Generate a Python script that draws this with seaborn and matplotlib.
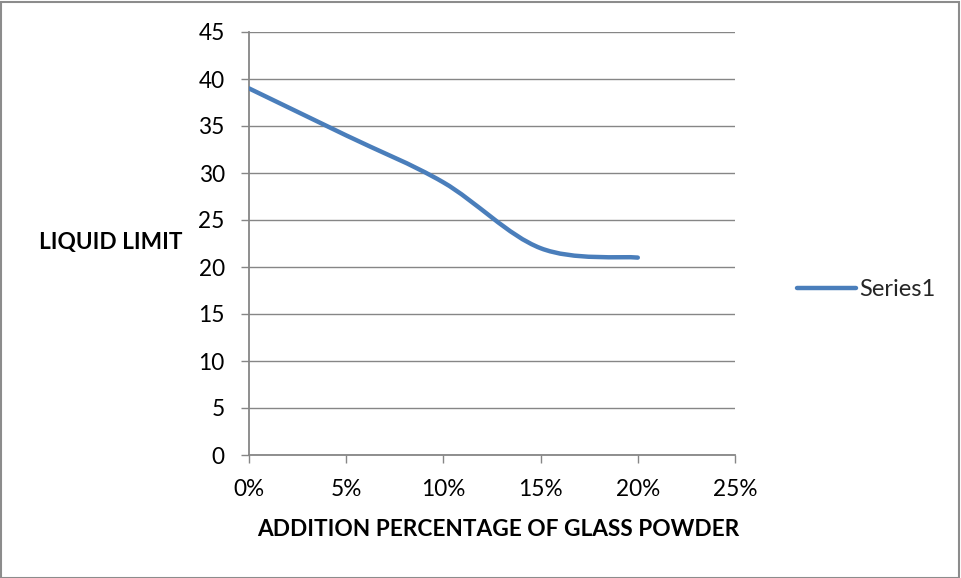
import numpy as np
import pandas as pd
import matplotlib
matplotlib.use("Agg")
import matplotlib.pyplot as plt
from matplotlib.path import Path
from matplotlib.patches import PathPatch, Rectangle
from matplotlib.lines import Line2D
from matplotlib.ticker import PercentFormatter, MultipleLocator
import seaborn as sns

# Liquid limit of the soil for each glass-powder addition
glass_powder = [0.00, 0.05, 0.10, 0.15, 0.20]
liquid_limit = [39, 34, 29, 22, 21]
series_name = "Series1"
x_title = "ADDITION PERCENTAGE OF GLASS POWDER"
y_title = "LIQUID LIMIT"

LINE_BLUE = "#4a7ebb"
AXIS_GREY = "#868686"
FONT_SIZE = 16.3

sns.set_theme(style="white")
plt.rcParams["font.family"] = ["Lato", "DejaVu Sans"]

W, H = 961, 578
fig = plt.figure(figsize=(W / 100, H / 100), dpi=100)
ax = fig.add_axes([249 / W, 1 - 455 / H, 486 / W, 423 / H])

df = pd.DataFrame({"pct": glass_powder, "ll": liquid_limit})
sns.lineplot(data=df, x="pct", y="ll", ax=ax, color=LINE_BLUE, linewidth=3.2)

# Replace the straight polyline with a smoothed (Catmull-Rom Bezier) curve
line = ax.lines[0]
xs, ys = (np.asarray(v, dtype=float) for v in line.get_data())
line.remove()
pts = np.column_stack([xs, ys])
n = len(pts)
verts = [tuple(pts[0])]
codes = [Path.MOVETO]
for i in range(n - 1):
    p0 = pts[max(i - 1, 0)]
    p1 = pts[i]
    p2 = pts[i + 1]
    p3 = pts[min(i + 2, n - 1)]
    c1 = p1 + (p2 - p0) / 6.0
    c2 = p2 - (p3 - p1) / 6.0
    verts += [tuple(c1), tuple(c2), tuple(p2)]
    codes += [Path.CURVE4] * 3
curve = PathPatch(Path(verts, codes), fill=False, edgecolor=LINE_BLUE,
                  linewidth=3.2, capstyle="round", joinstyle="round", zorder=3)
ax.add_patch(curve)

ax.set_xlim(0, 0.25)
ax.set_ylim(0, 45)
ax.xaxis.set_major_locator(MultipleLocator(0.05))
ax.yaxis.set_major_locator(MultipleLocator(5))
ax.xaxis.set_major_formatter(PercentFormatter(1.0, decimals=0))
ax.set_xlabel("")
ax.set_ylabel("")

ax.grid(axis="y", color=AXIS_GREY, linewidth=1.0)
ax.grid(axis="x", visible=False)
for side in ("top", "right"):
    ax.spines[side].set_visible(False)
for side in ("left", "bottom"):
    ax.spines[side].set_color(AXIS_GREY)
    ax.spines[side].set_linewidth(1.3)
ax.tick_params(axis="both", which="major", direction="out", length=5.5,
               width=1.0, color=AXIS_GREY, labelsize=FONT_SIZE,
               labelcolor="black", pad=12, left=True, bottom=True)

fig.text(111 / W, 1 - 243 / H, y_title, ha="center", va="center",
         fontsize=FONT_SIZE, fontweight="bold", color="black")
fig.text(498 / W, 1 - 530 / H, x_title, ha="center", va="center",
         fontsize=FONT_SIZE, fontweight="bold", color="black")

handle = Line2D([], [], color=LINE_BLUE, linewidth=3.2, solid_capstyle="round")
ax.legend(handles=[handle], labels=[series_name], loc="center left",
          bbox_to_anchor=(797 / W, 1 - 290 / H), bbox_transform=fig.transFigure,
          frameon=False, borderpad=0, borderaxespad=0, handlelength=2.5,
          handletextpad=0.15, fontsize=FONT_SIZE + 0.7)

# Thin grey frame around the whole chart area
fig.patches.append(Rectangle((0.5 / W, 0.5 / H), 1 - 2.5 / W, 1 - 2.5 / H,
                             transform=fig.transFigure, fill=False,
                             edgecolor="#8c8c8c", linewidth=1.5))

fig.savefig("out.png", dpi=100)
